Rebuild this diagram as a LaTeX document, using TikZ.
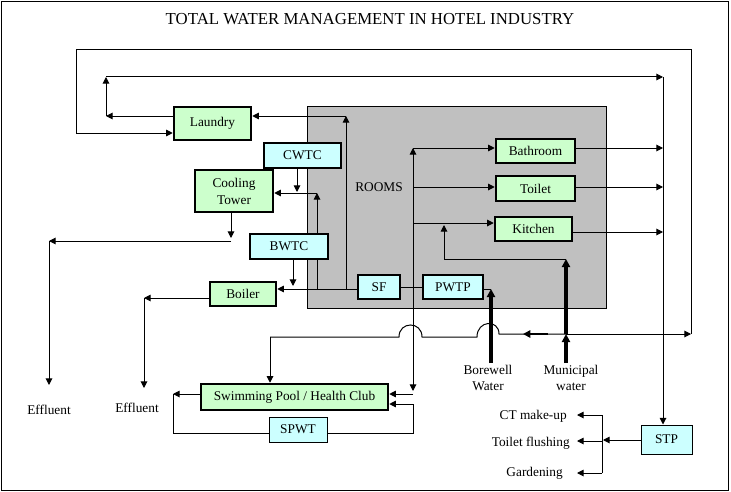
\documentclass[tikz,border=0pt]{standalone}
\usepackage{fontspec}
\setmainfont{Liberation Serif}
\usetikzlibrary{arrows.meta}
\definecolor{boxgreen}{HTML}{CCFFCC}
\definecolor{boxcyan}{HTML}{CCFFFF}
\definecolor{roomgrey}{HTML}{C0C0C0}
\pgfdeclarelayer{back}
\pgfdeclarelayer{mid}
\pgfsetlayers{back,mid,main}
\begin{document}
\begin{tikzpicture}[x=0.75pt,y=-0.75pt,
  every node/.style={font=\fontsize{10}{12}\selectfont, inner sep=0pt},
  gbox/.style={draw, line width=1.9pt, fill=boxgreen},
  cbox/.style={draw, line width=1.9pt, fill=boxcyan},
  tbox/.style={draw, line width=0.75pt, fill=boxcyan},
  conn/.style={line width=0.75pt},
  arr/.style={conn, -{Triangle[length=5pt,width=5pt]}},
  thickarr/.style={line width=2.3pt, -{Triangle[length=6pt,width=6pt]}},
  medarr/.style={line width=1.6pt, -{Triangle[length=5.5pt,width=5.5pt]}}]
\useasboundingbox (0,0) rectangle (731,492);
\draw[conn] (1,1.5) rectangle (728.5,490);
\node[font=\fontsize{12.6}{14}\selectfont] (title) at (370,19) {TOTAL WATER MANAGEMENT IN HOTEL INDUSTRY};

\begin{pgfonlayer}{back}
\draw[conn, fill=roomgrey] (307,106) rectangle (606,308);
\end{pgfonlayer}
\node (rooms) at (379,187) {ROOMS};

% boxes
\node[gbox, minimum width=57.75pt, minimum height=24.75pt] (Laundry) at (212.5,123.5) {Laundry};
\node[cbox, minimum width=57.75pt, minimum height=18.75pt] (CWTC) at (302.5,155.5) {CWTC};
\node[gbox, minimum width=58.5pt, minimum height=31.5pt, align=center, font=\fontsize{10}{12.75}\selectfont] (Cooling) at (234,191) {Cooling\\Tower};
\node[cbox, minimum width=58.5pt, minimum height=18.75pt] (BWTC) at (289,246.5) {BWTC};
\node[gbox, minimum width=49.5pt, minimum height=18pt] (Boiler) at (243,294) {Boiler};
\node[cbox, minimum width=31.5pt, minimum height=18pt] (SF) at (379,287) {SF};
\node[cbox, minimum width=45pt, minimum height=18pt] (PWTP) at (453,287) {PWTP};
\node[gbox, minimum width=59.25pt, minimum height=18pt] (Bathroom) at (535.5,151) {Bathroom};
\node[gbox, minimum width=59.25pt, minimum height=18.75pt] (Toilet) at (535.5,188.5) {Toilet};
\node[gbox, minimum width=57.75pt, minimum height=18pt] (Kitchen) at (533.5,229) {Kitchen};
\node[gbox, minimum width=140.25pt, minimum height=19.5pt] (Pool) at (294.5,397) {Swimming Pool / Health Club};
\node[tbox, minimum width=43.5pt, minimum height=18.75pt] (SPWT) at (298,429.5) {SPWT};
\node[tbox, minimum width=38.25pt, minimum height=21.75pt] (STP) at (666.5,439.5) {STP\hspace{4pt}};

% labels
\node (eff1) at (49,410) {Effluent};
\node (eff2) at (137,408) {Effluent};
\node[align=center] (bore) at (488,378) {Borewell\\Water};
\node[align=center] (muni) at (571,378) {Municipal\\water};
\node[anchor=east] (ctm) at (567,416) {CT make-up};
\node[anchor=east] (tfl) at (570,443) {Toilet flushing};
\node[anchor=east] (gar) at (563,473) {Gardening};

% coordinates
\coordinate (m0) at (566,334);
\coordinate (o1) at (691,334);
\coordinate (o2) at (691,50);
\coordinate (o3) at (76,50);
\coordinate (o4) at (76,133);
\coordinate (l1) at (106,116);
\coordinate (l2) at (106,77);
\coordinate (b1) at (663,77);
\coordinate (s1) at (346,289);
\coordinate (s2) at (346,116);
\coordinate (t1) at (317,289);
\coordinate (t2) at (317,193);
\coordinate (cw) at (297,192);
\coordinate (bw) at (293,286);
\coordinate (e1) at (231,238);
\coordinate (e2) at (231,241);
\coordinate (e3) at (49,241);
\coordinate (e4) at (49,385);
\coordinate (f1) at (144,298);
\coordinate (f2) at (144,388);
\coordinate (r0) at (413,289);
\coordinate (r1) at (413,148);
\coordinate (r2) at (413,187);
\coordinate (r3) at (413,223);
\coordinate (r4) at (413,391);
\coordinate (r5) at (413,394);
\coordinate (k1) at (663,232);
\coordinate (p1) at (173,394);
\coordinate (p2) at (173,433);
\coordinate (p3) at (413,433);
\coordinate (p4) at (413,404);
\coordinate (bw0) at (491,363);
\coordinate (bw1) at (491,289);
\coordinate (mu0) at (566,363);
\coordinate (mu1) at (566,259);
\coordinate (mu2) at (444,259);
\coordinate (mu3) at (444,225);
\coordinate (h1) at (499,334);
\coordinate (h2) at (477,337);
\coordinate (h3) at (422,337);
\coordinate (h4) at (399,337);
\coordinate (q) at (270,337);
\coordinate (ma) at (548,334);
\coordinate (mb) at (523,334);
\coordinate (g0) at (603,440);
\coordinate (g1) at (602,415);
\coordinate (g2) at (602,473);
\coordinate (g3) at (602,441);
\coordinate (c1) at (577,415);
\coordinate (c2) at (577,441);
\coordinate (c3) at (577,473);

\begin{pgfonlayer}{mid}
% outer loop from municipal supply to laundry
\draw[arr] (m0) -- (o1);
\draw[arr] (o1) -- (o2) -- (o3) -- (o4) -- (Laundry.west |- o4);
% laundry to STP collector
\draw[arr] (Laundry.west |- l1) -- (l1);
\draw[arr] (l1) -- (l2);
\draw[arr] (l2) -- (b1);
\draw[arr] (b1) -- (STP.north -| b1);
% SF distribution
\draw[arr] (SF.west |- s1) -- (Boiler.east |- s1);
\draw[arr] (s1) -- (s2);
\draw[arr] (s2) -- (Laundry.east |- s2);
\draw[arr] (t1) -- (t2);
\draw[arr] (t2) -- (Cooling.east |- t2);
\draw[arr] (CWTC.south -| cw) -- (cw);
\draw[arr] (BWTC.south -| bw) -- (bw);
% effluents
\draw[arr] (Cooling.south -| e1) -- (e1);
\draw[arr] (e2) -- (e3);
\draw[arr] (e3) -- (e4);
\draw[arr] (Boiler.west |- f1) -- (f1);
\draw[arr] (f1) -- (f2);
% rooms
\draw[conn] (SF.east) -- (PWTP.west);
\draw[arr] (r0) -- (r1);
\draw[arr] (r0) -- (r4);
\draw[arr] (r1) -- (Bathroom.west |- r1);
\draw[arr] (r2) -- (Toilet.west |- r2);
\draw[arr] (r3) -- (Kitchen.west |- r3);
\draw[arr] (r5) -- (Pool.east |- r5);
\draw[arr] (Bathroom.east |- r1) -- (r1 -| b1);
\draw[arr] (Toilet.east |- r2) -- (r2 -| b1);
\draw[arr] (Kitchen.east |- k1) -- (k1);
% pool loop
\draw[arr] (Pool.west |- p1) -- (p1);
\draw[conn] (p1) -- (p2) -- (SPWT.west |- p2);
\draw[arr] (SPWT.east |- p2) -- (p3) -- (p4) -- (Pool.east |- p4);
% borewell
\draw[thickarr] (bw0) -- (bw1);
\draw[conn] (bw1) -- (PWTP.east |- bw1);
% municipal
\draw[thickarr] (mu0) -- (m0);
\draw[thickarr] (m0) -- (mu1);
\draw[conn] (mu1) -- (mu2);
\draw[arr] (mu2) -- (mu3);
\draw[conn] (m0) -- (h1) .. controls (499,319) and (477,320) .. (h2) -- (h3)
  .. controls (422,321) and (399,321) .. (h4) -- (q);
\draw[medarr] (ma) -- (mb);
\draw[arr] (q) -- (Pool.north -| q);
% STP reuse
\draw[arr] (STP.west |- g0) -- (g0);
\draw[conn] (g1) -- (g2);
\draw[arr] (g1) -- (c1);
\draw[arr] (g3) -- (c2);
\draw[arr] (g2) -- (c3);
\end{pgfonlayer}
\end{tikzpicture}
\end{document}
